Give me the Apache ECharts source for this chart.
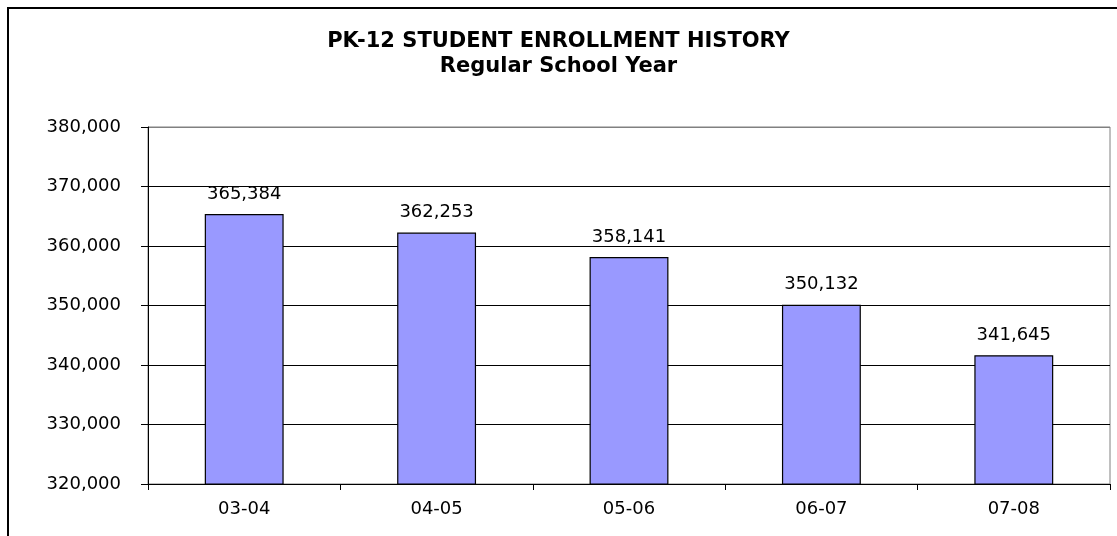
<!DOCTYPE html>
<html>
<head>
<meta charset="utf-8">
<script src="https://cdn.jsdelivr.net/npm/echarts@6/dist/echarts.min.js"></script>
<style>
html,body{margin:0;padding:0;background:#fff;overflow:hidden;}
#chart{width:1117px;height:536px;}
</style>
</head>
<body>
<div id="chart"></div>
<script>
const titleLines = ["PK-12 STUDENT ENROLLMENT HISTORY", "Regular School Year"];
const categories = ["03-04", "04-05", "05-06", "06-07", "07-08"];
const enrollment = [365384, 362253, 358141, 350132, 341645];
const yMin = 320000;
const yMax = 380000;
const yStep = 10000;

const fmt = v => Number(v).toLocaleString('en-US');
const FONT = 'DejaVu Sans';

const chart = echarts.init(document.getElementById('chart'));
chart.setOption({
  backgroundColor: '#fff',
  animation: false,
  title: {
    text: titleLines.join('\n'),
    left: 'center',
    top: 24,
    textStyle: { fontFamily: FONT, fontWeight: 'bold', fontSize: 21, lineHeight: 25, color: '#000' }
  },
  graphic: [{
    type: 'rect',
    shape: { x: 8, y: 8, width: 1200, height: 600 },
    style: { fill: 'none', stroke: '#000', lineWidth: 2 },
    silent: true
  }],
  grid: {
    left: 148, right: 7, top: 127, bottom: 52,
    show: true, borderColor: '#808080', borderWidth: 1, backgroundColor: 'transparent'
  },
  xAxis: {
    type: 'category',
    data: categories,
    axisLine: { lineStyle: { color: '#000', width: 1 } },
    axisTick: { show: true, length: 6, lineStyle: { color: '#000' } },
    axisLabel: { fontFamily: FONT, fontSize: 18, color: '#000', margin: 16 },
    splitLine: { show: false }
  },
  yAxis: {
    type: 'value',
    min: yMin, max: yMax, interval: yStep,
    axisLine: { show: true, lineStyle: { color: '#000', width: 1 } },
    axisTick: { show: true, length: 7, lineStyle: { color: '#000' } },
    axisLabel: { fontFamily: FONT, fontSize: 18, color: '#000', margin: 27, formatter: fmt },
    splitLine: { show: true, lineStyle: { color: ['#000','#000','#000','#000','#000','#000','#808080'], width: 1 } }
  },
  series: [{
    type: 'bar',
    data: enrollment,
    barWidth: '41%',
    itemStyle: { color: '#9999FF', borderColor: '#000', borderWidth: 1.2 },
    label: {
      show: true, position: 'top', distance: 11,
      fontFamily: FONT, fontSize: 18, color: '#000',
      formatter: p => fmt(p.value)
    }
  }]
});
</script>
</body>
</html>
